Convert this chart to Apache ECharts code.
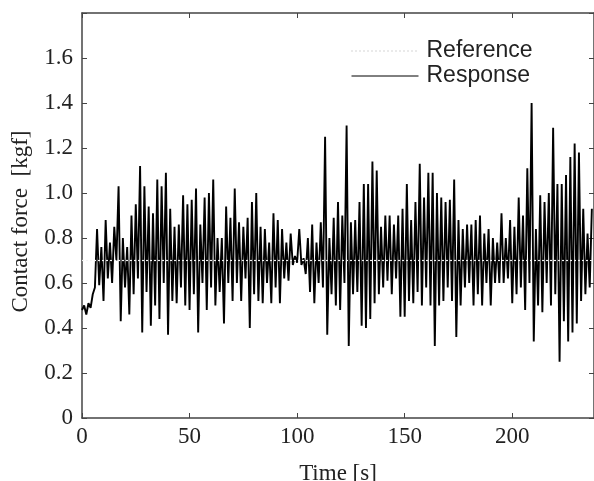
<!DOCTYPE html>
<html><head><meta charset="utf-8">
<script src="https://cdn.jsdelivr.net/npm/echarts@6/dist/echarts.min.js"></script>
<style>html,body{margin:0;padding:0;background:#fff}#c{width:594px;height:481px}</style>
</head><body><div id="c"></div>
<script>
// Sampling interval of the recorded response [s]
const sampleStep = 1;
// Reference contact force [kgf]
const referenceLevel = 0.7;
// Response contact force [kgf], one value per sample
const response = [
0.48,0.50,0.46,0.51,0.49,0.55,0.58,0.84,0.59,0.76,
0.52,0.88,0.62,0.78,0.60,0.85,0.70,1.03,0.43,0.80,
0.58,0.76,0.46,0.90,0.55,0.95,0.62,1.12,0.38,1.03,
0.56,0.94,0.41,0.91,0.50,1.06,0.44,1.03,0.60,1.09,
0.37,0.93,0.52,0.85,0.51,0.86,0.58,0.99,0.50,0.95,
0.48,0.97,0.55,1.02,0.38,0.86,0.60,0.98,0.48,1.00,
0.58,1.06,0.50,0.80,0.56,0.80,0.42,0.94,0.60,0.89,
0.52,1.02,0.60,0.87,0.52,0.85,0.62,0.89,0.40,0.96,
0.55,1.00,0.52,0.85,0.51,0.84,0.60,0.78,0.51,0.91,
0.58,0.88,0.51,0.84,0.62,0.78,0.61,0.82,0.68,0.72,
0.69,0.84,0.68,0.71,0.64,0.80,0.56,0.86,0.51,0.78,
0.60,0.87,0.58,1.25,0.37,0.80,0.55,0.89,0.50,0.96,
0.48,0.90,0.60,1.30,0.32,0.87,0.55,0.88,0.56,0.96,
0.41,1.04,0.40,1.04,0.44,1.14,0.51,1.10,0.55,0.85,
0.58,0.90,0.61,0.90,0.55,0.86,0.62,0.90,0.45,0.93,
0.45,1.04,0.52,0.88,0.51,0.96,0.56,1.13,0.50,0.98,
0.58,1.09,0.50,1.09,0.32,1.00,0.50,0.98,0.52,0.96,
0.58,0.97,0.52,1.06,0.36,0.88,0.50,0.84,0.58,0.86,
0.60,0.86,0.50,0.88,0.55,0.90,0.50,0.82,0.60,0.84,
0.50,0.80,0.60,0.78,0.60,0.91,0.60,0.80,0.62,0.88,
0.51,0.85,0.55,0.98,0.58,0.90,0.48,1.11,0.60,1.40,
0.34,0.84,0.50,0.99,0.47,0.96,0.60,1.00,0.50,1.29,
0.55,1.04,0.25,1.04,0.43,1.08,0.34,1.16,0.38,1.22,
0.42,1.18,0.52,0.93,0.55,0.82,0.58,0.93
];
const xTicks = [0, 50, 100, 150, 200];
const yTicks = [0, 0.2, 0.4, 0.6, 0.8, 1.0, 1.2, 1.4, 1.6];
const xMax = 238, yMax = 1.8;

const respData = response.map((v, i) => [i * sampleStep, v]);
const tEnd = (response.length - 1) * sampleStep;
const refData = [[0, referenceLevel], [tEnd, referenceLevel]];

const serif = '"Liberation Serif","Times New Roman",serif';
const sans = '"Liberation Sans",Arial,sans-serif';
const axisCol = '#444';
const frameAxis = {
  axisLine: {show: true, onZero: false, lineStyle: {color: axisCol, width: 1.5}},
  axisTick: {show: true, inside: true, length: 5, lineStyle: {color: axisCol, width: 1}},
  splitLine: {show: false}
};
const chart = echarts.init(document.getElementById('c'), null, {renderer: 'canvas'});
chart.setOption({
  animation: false,
  backgroundColor: '#fff',
  grid: {left: 82, right: 0, top: 13, bottom: 63, containLabel: false, outerBoundsMode: 'none'},
  legend: {
    orient: 'vertical', left: 346, top: 34, itemGap: 1,
    itemWidth: 67, itemHeight: 14,
    itemStyle: {color: 'transparent', borderColor: 'transparent', borderWidth: 0, opacity: 0},
    textStyle: {fontFamily: sans, fontSize: 23, color: '#222', lineHeight: 24, padding: [0, 0, 0, 3]},
    data: [
      {name: 'Reference', lineStyle: {color: '#aaa', type: [1, 3], width: 1}},
      {name: 'Response', lineStyle: {color: '#000', type: 'solid', width: 1}}
    ]
  },
  xAxis: [Object.assign({
    type: 'value', min: 0, max: xMax, interval: 50, position: 'bottom',
    name: 'Time [s]', nameLocation: 'middle', nameGap: 44,
    nameTextStyle: {fontFamily: serif, fontSize: 23, color: '#222'},
    axisLabel: {fontFamily: serif, fontSize: 23, color: '#222', margin: 7, showMaxLabel: false,
      formatter: v => xTicks.includes(v) ? String(v) : ''}
  }, frameAxis), Object.assign({
    type: 'value', min: 0, max: xMax, interval: 50, position: 'top',
    axisLabel: {show: false}
  }, frameAxis)],
  yAxis: [Object.assign({
    type: 'value', min: 0, max: yMax, interval: 0.2, position: 'left',
    name: 'Contact force  [kgf]', nameLocation: 'middle', nameGap: 50, nameRotate: 90,
    nameTextStyle: {fontFamily: serif, fontSize: 23, color: '#222', padding: [0, 12, 0, 0]},
    axisLabel: {fontFamily: serif, fontSize: 23, color: '#222', margin: 9,
      formatter: v => {
        const t = yTicks.find(y => Math.abs(y - v) < 1e-6);
        if (t === undefined) return '';
        return t === 0 ? '0' : t.toFixed(1);
      }}
  }, frameAxis), Object.assign({
    type: 'value', min: 0, max: yMax, interval: 0.2, position: 'right',
    axisLabel: {show: false}
  }, frameAxis)],
  series: [{
    name: 'Response', type: 'line', data: respData, xAxisIndex: 0, yAxisIndex: 0,
    symbol: 'none', sampling: false, lineStyle: {color: '#000', width: 1.9}, itemStyle: {color: '#000'},
    z: 2
  }, {
    name: 'Reference', type: 'line', data: refData, xAxisIndex: 0, yAxisIndex: 0,
    symbol: 'none', lineStyle: {color: '#f4f4f4', width: 1.2, type: [2, 2]}, itemStyle: {color: '#ccc'},
    z: 3
  }]
});
</script></body></html>
